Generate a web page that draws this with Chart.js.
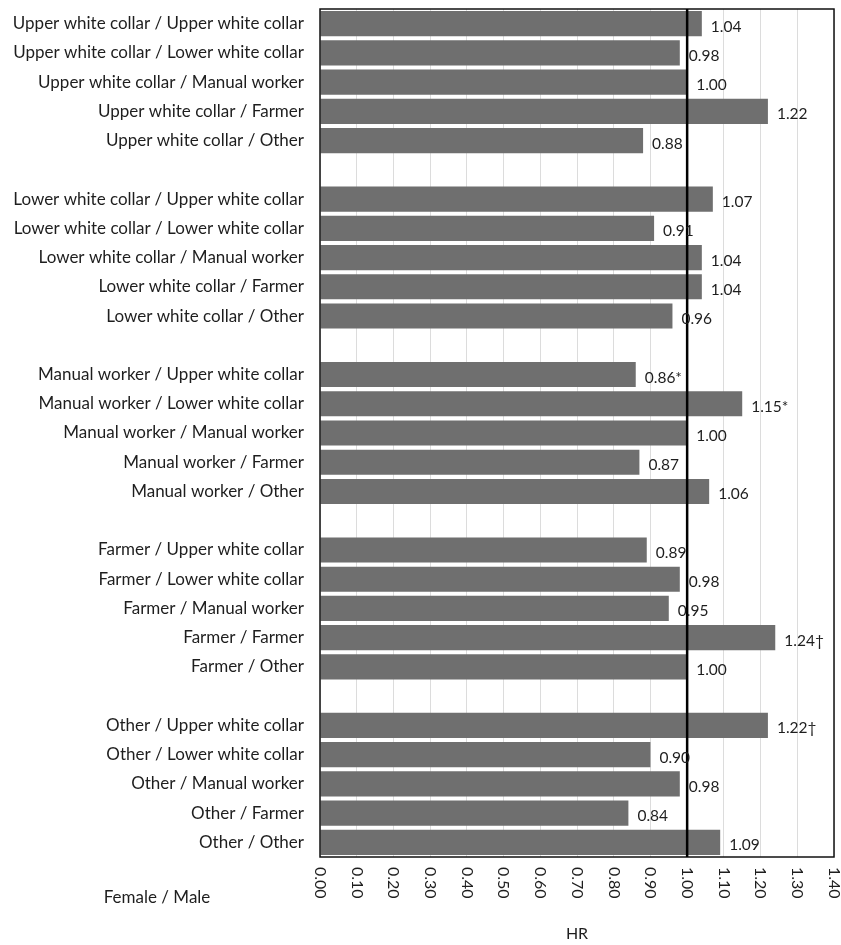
<!DOCTYPE html>
<html>
<head>
<meta charset="utf-8">
<script src="https://cdn.jsdelivr.net/npm/chart.js@4.4.1/dist/chart.umd.min.js"></script>
<style>
  html, body { margin: 0; padding: 0; background: #fff; }
  #wrap { width: 841px; height: 945px; }
</style>
</head>
<body>
<div id="wrap"><canvas id="chart" width="841" height="945"></canvas></div>
<script>
// rows, top to bottom ('' = spacer row between groups)
const categories = [
  'Upper white collar / Upper white collar',
  'Upper white collar / Lower white collar',
  'Upper white collar / Manual worker',
  'Upper white collar / Farmer',
  'Upper white collar / Other',
  '',
  'Lower white collar / Upper white collar',
  'Lower white collar / Lower white collar',
  'Lower white collar / Manual worker',
  'Lower white collar / Farmer',
  'Lower white collar / Other',
  '',
  'Manual worker / Upper white collar',
  'Manual worker / Lower white collar',
  'Manual worker / Manual worker',
  'Manual worker / Farmer',
  'Manual worker / Other',
  '',
  'Farmer / Upper white collar',
  'Farmer / Lower white collar',
  'Farmer / Manual worker',
  'Farmer / Farmer',
  'Farmer / Other',
  '',
  'Other / Upper white collar',
  'Other / Lower white collar',
  'Other / Manual worker',
  'Other / Farmer',
  'Other / Other'
];

const hrValues = [
  1.04, 0.98, 1.00, 1.22, 0.88, null,
  1.07, 0.91, 1.04, 1.04, 0.96, null,
  0.86, 1.15, 1.00, 0.87, 1.06, null,
  0.89, 0.98, 0.95, 1.24, 1.00, null,
  1.22, 0.90, 0.98, 0.84, 1.09
];

const valueLabels = [
  '1.04', '0.98', '1.00', '1.22', '0.88', '',
  '1.07', '0.91', '1.04', '1.04', '0.96', '',
  '0.86*', '1.15*', '1.00', '0.87', '1.06', '',
  '0.89', '0.98', '0.95', '1.24\u2020', '1.00', '',
  '1.22\u2020', '0.90', '0.98', '0.84', '1.09'
];

const xTicks = [0.0, 0.1, 0.2, 0.3, 0.4, 0.5, 0.6, 0.7, 0.8, 0.9, 1.0, 1.1, 1.2, 1.3, 1.4];
const refValue = 1.0;

const FONT = 'Lato, "Open Sans", sans-serif';
const TEXT = '#1e1e1e';

const extras = {
  id: 'extras',
  afterDatasetsDraw(chart) {
    const ctx = chart.ctx;
    const area = chart.chartArea;
    const x = chart.scales.x;
    const y = chart.scales.y;
    ctx.save();

    // frame around plot
    ctx.strokeStyle = '#111';
    ctx.lineWidth = 1.5;
    ctx.strokeRect(area.left, area.top, area.right - area.left, area.bottom - area.top);

    // reference line at HR = 1
    const rx = x.getPixelForValue(refValue);
    ctx.strokeStyle = '#000';
    ctx.lineWidth = 2.5;
    ctx.beginPath();
    ctx.moveTo(rx, area.top);
    ctx.lineTo(rx, area.bottom);
    ctx.stroke();

    // value labels
    ctx.fillStyle = TEXT;
    ctx.font = '15.5px ' + FONT;
    ctx.textAlign = 'left';
    ctx.textBaseline = 'middle';
    hrValues.forEach((v, i) => {
      if (v == null) return;
      ctx.fillText(valueLabels[i], x.getPixelForValue(v) + 9, y.getPixelForValue(i) + 3);
    });

    // rotated tick labels (reading top to bottom)
    ctx.font = '16px ' + FONT;
    xTicks.forEach(t => {
      ctx.save();
      ctx.translate(x.getPixelForValue(t), area.bottom + 10);
      ctx.rotate(Math.PI / 2);
      ctx.textAlign = 'left';
      ctx.textBaseline = 'middle';
      ctx.fillText(t.toFixed(2), 0, 0);
      ctx.restore();
    });

    ctx.font = '17px ' + FONT;
    ctx.textAlign = 'center';
    ctx.fillText('Female / Male', 157, 898);
    ctx.restore();
  }
};

new Chart(document.getElementById('chart'), {
  type: 'bar',
  data: {
    labels: categories,
    datasets: [{
      data: hrValues,
      backgroundColor: '#6f6f6f',
      borderWidth: 0,
      categoryPercentage: 1,
      barPercentage: 0.86
    }]
  },
  options: {
    indexAxis: 'y',
    responsive: false,
    animation: false,
    layout: { padding: { top: 9, right: 7, left: 0, bottom: 0 } },
    plugins: {
      legend: { display: false },
      tooltip: { enabled: false }
    },
    scales: {
      x: {
        min: 0,
        max: 1.4,
        afterBuildTicks(scale) {
          scale.ticks = xTicks.map(v => ({ value: v }));
        },
        afterFit(scale) {
          scale.height = 88;
          scale.paddingLeft = 0;
          scale.paddingRight = 0;
        },
        ticks: { display: false },
        grid: { color: '#dcdcdc', drawTicks: false },
        border: { display: false },
        title: {
          display: true,
          text: 'HR',
          color: TEXT,
          font: { family: FONT, size: 16 },
          padding: { top: 0, bottom: 2 }
        }
      },
      y: {
        afterFit(scale) {
          scale.width = 320;
          scale.paddingTop = 0;
          scale.paddingBottom = 0;
        },
        ticks: {
          color: TEXT,
          font: { family: FONT, size: 17 },
          padding: 16,
          autoSkip: false
        },
        grid: { display: false, drawTicks: false },
        border: { display: false }
      }
    }
  },
  plugins: [extras]
});
</script>
</body>
</html>
